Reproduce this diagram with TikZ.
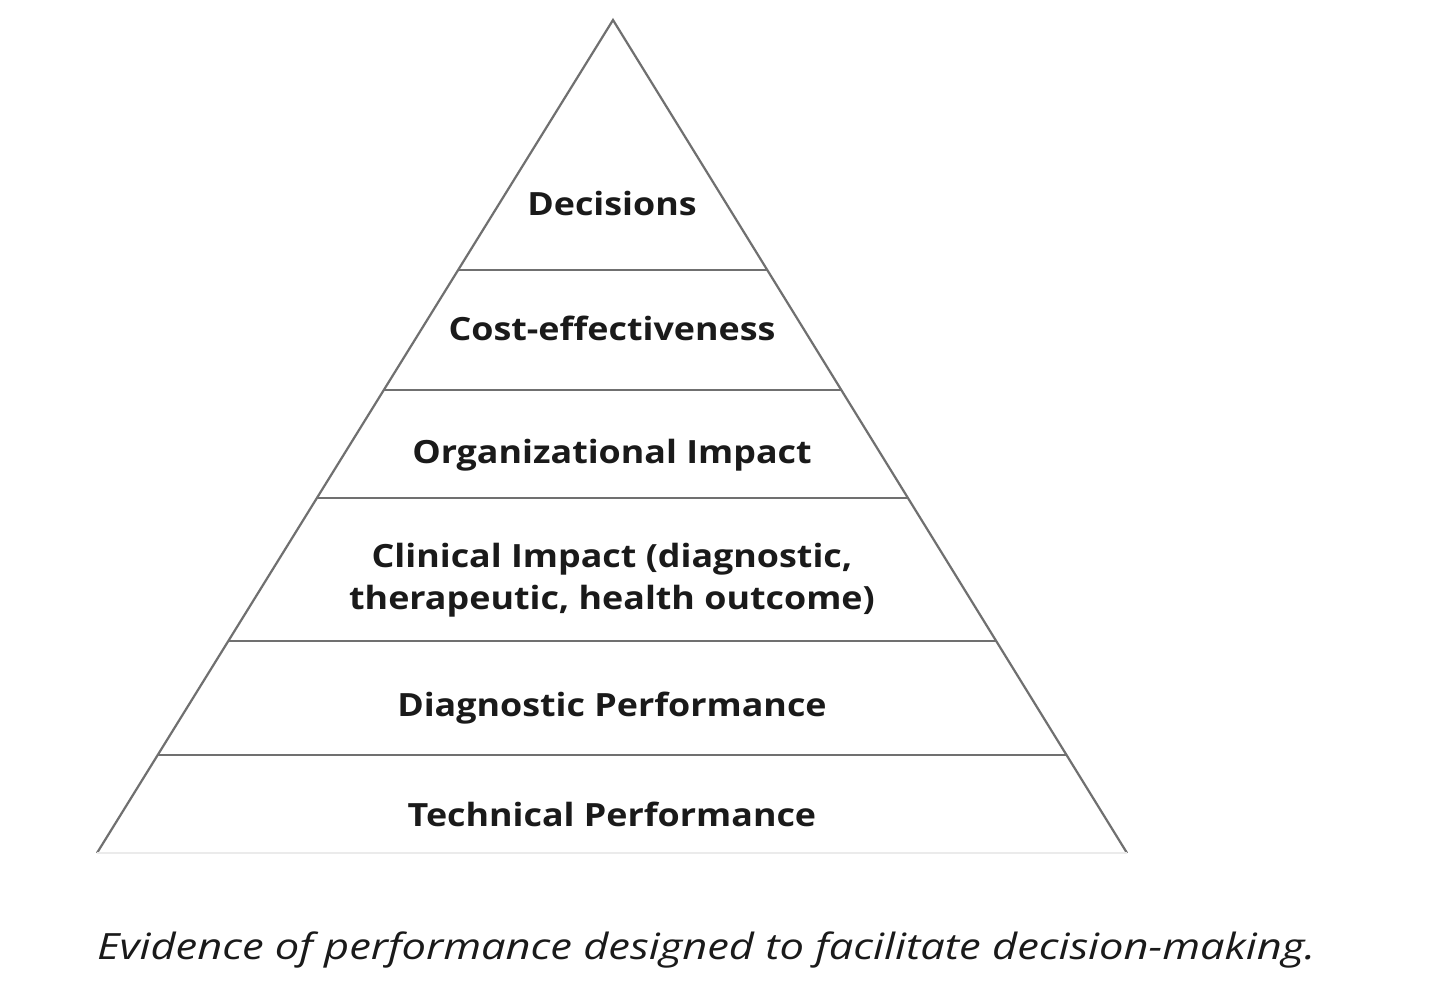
\documentclass[tikz,border=0pt]{standalone}
\usepackage{fontspec}
\setmainfont{Open Sans}[FakeStretch=1.12]
\newfontfamily\captionfont{Open Sans}[FakeStretch=1.2]
\usetikzlibrary{calc}
\definecolor{edgegray}{HTML}{707070}
\definecolor{textblack}{HTML}{1A1A1A}
\tikzset{
  edge/.style={draw=edgegray, line width=2.2pt},
  tier/.style={edge, line width=2.6pt},
  baseedge/.style={draw=black!8, line width=1.5pt},
  tierlabel/.style={font=\fontsize{32}{42}\selectfont\bfseries, text=textblack, align=center, inner sep=0pt},
  caption/.style={font=\captionfont\fontsize{36.2}{42}\selectfont\itshape, text=textblack, anchor=west, inner sep=0pt}
}
\begin{document}
\begin{tikzpicture}[x=1pt,y=-1pt]
\useasboundingbox (0,0) rectangle (1440,990);
\fill[white] (0,0) rectangle (1440,990);
\coordinate (apex) at (613,20);
\coordinate (bl) at (97,853);
\coordinate (br) at (1127,853);
\draw[edge] (bl) -- (apex) -- (br);
\draw[baseedge] (bl) -- (br);
\foreach \t/\n in {0.3001/a,0.4442/b,0.5738/c,0.7455/d,0.8824/e}{
  \coordinate (L\n) at ($(apex)!\t!(bl)$);
  \coordinate (R\n) at ($(apex)!\t!(br)$);
  \draw[tier] (L\n) -- (R\n);
}
\node[tierlabel] (dec) at (612,203) {Decisions};
\node[tierlabel] (cost) at (612,328) {Cost-effectiveness};
\node[tierlabel] (org) at (612,455) {Organizational Impact};
\node[tierlabel] (clin) at (612,580) {Clinical Impact (diagnostic,\\therapeutic, health outcome)};
\node[tierlabel] (diag) at (612,708) {Diagnostic Performance};
\node[tierlabel] (tech) at (612,814) {Technical Performance};
\node[caption] (cap) at (97,950) {Evidence of performance designed to facilitate decision-making.};
\end{tikzpicture}
\end{document}
